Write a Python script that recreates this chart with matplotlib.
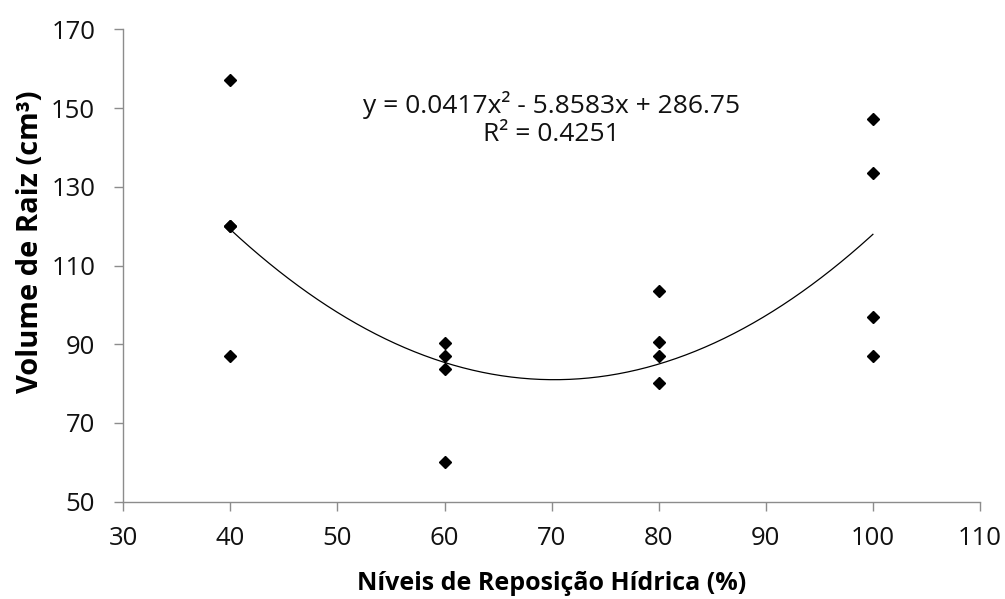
import numpy as np
import matplotlib.pyplot as plt

# -------------------------------
# Dados
# -------------------------------
niveis = [40, 40, 40, 40,
          60, 60, 60, 60,
          80, 80, 80, 80,
          100, 100, 100, 100]
volume = [157, 120, 120, 87,
          90.3, 87.1, 83.6, 60.1,
          103.6, 90.6, 86.9, 80.2,
          147.1, 133.6, 96.9, 86.9]

# coeficientes da linha de tendência (equação do gráfico)
coef = [0.0417, -5.8583, 286.75]
r2 = 0.4251

# -------------------------------
# Figura
# -------------------------------
plt.rcParams['font.family'] = ['Open Sans', 'DejaVu Sans']

fig = plt.figure(figsize=(10.05, 5.99), dpi=100)
ax = fig.add_axes([0.1227, 0.1624, 0.8524, 0.7887])

ax.plot(niveis, volume, linestyle='none', marker='D', ms=6.5,
        color='black', zorder=3)

xt = np.linspace(min(niveis), max(niveis), 200)
ax.plot(xt, np.polyval(coef, xt), color='black', lw=0.9)

ax.text(70, 147.2,
        f"y = {coef[0]:.4f}x² - {abs(coef[1]):.4f}x + {coef[2]:.2f}\n"
        f"R² = {r2:.4f}",
        ha='center', va='center', fontsize=19, linespacing=1.2,
        color='#111111')

ax.set_xlim(30, 110)
ax.set_ylim(50, 170)
ax.set_xticks(range(30, 111, 10))
ax.set_yticks(range(50, 171, 20))

for s in ['top', 'right']:
    ax.spines[s].set_visible(False)
for s in ['left', 'bottom']:
    ax.spines[s].set_color('#8c8c8c')
    ax.spines[s].set_linewidth(1.0)

ax.tick_params(axis='both', direction='out', length=6.2, width=1.0,
               color='#8c8c8c', labelsize=18.5, labelcolor='#111111')
ax.tick_params(axis='x', pad=11)
ax.tick_params(axis='y', pad=14)

ax.set_xlabel("Níveis de Reposição Hídrica (%)", fontsize=18,
              fontweight='bold', labelpad=15)
ax.set_ylabel("Volume de Raiz (cm³)", fontsize=21,
              fontweight='bold')
ax.yaxis.set_label_coords(-0.091, 0.55)

fig.savefig("out.png", dpi=100)
